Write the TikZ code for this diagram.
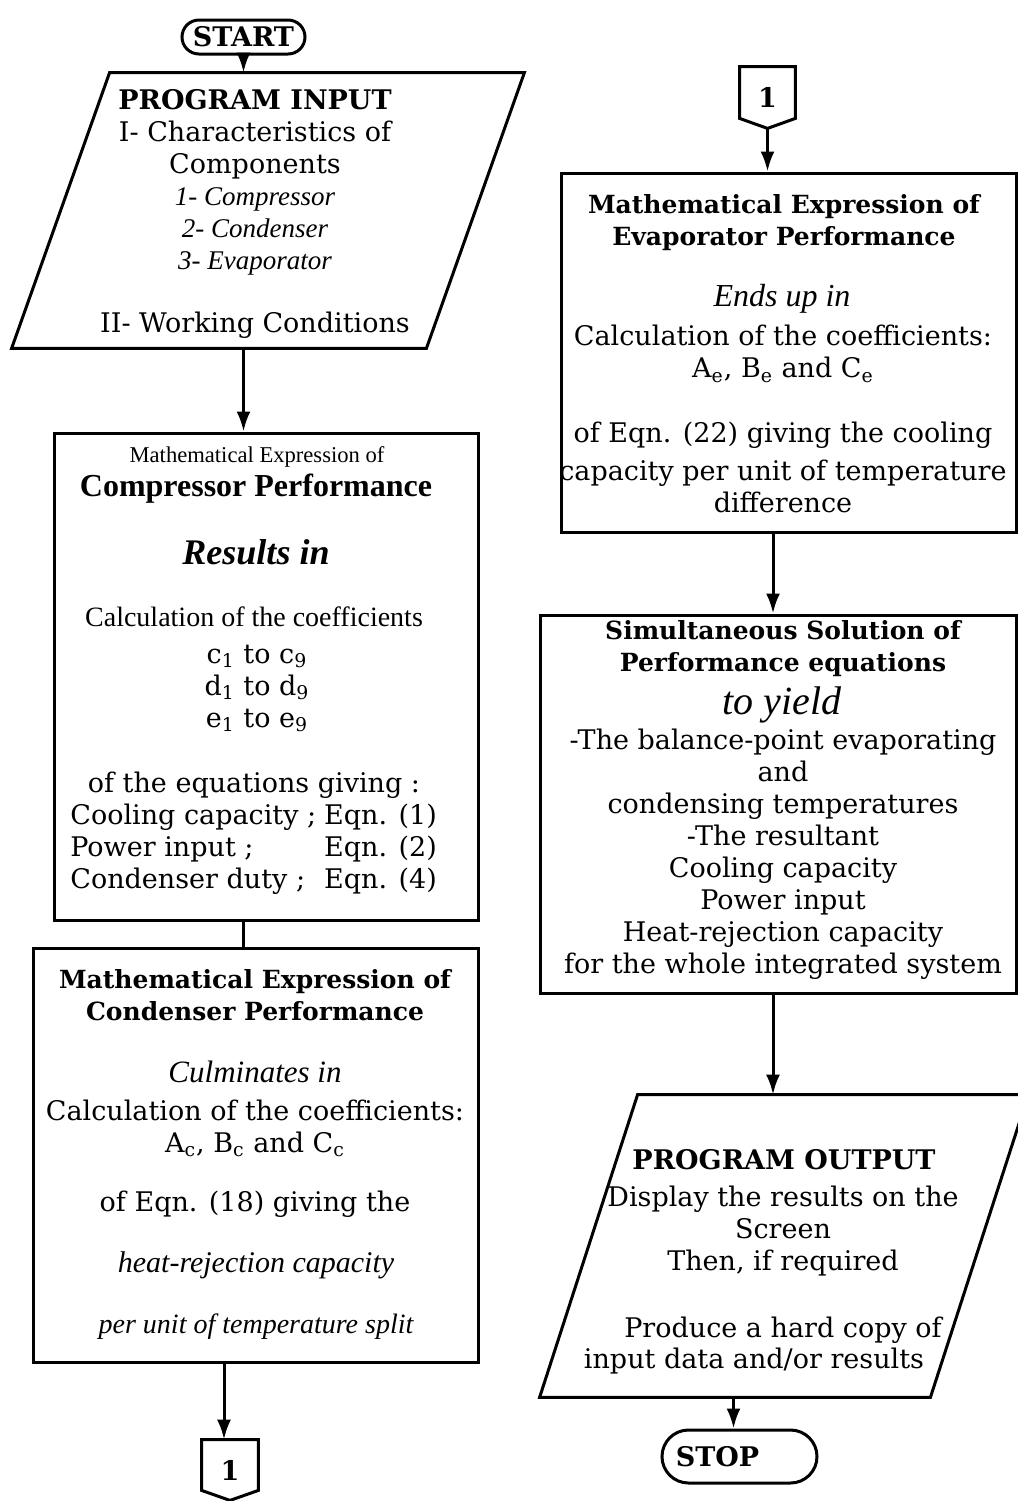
\documentclass[tikz,border=0pt]{standalone}
\usepackage{fontspec}
\setmainfont{DejaVu Serif}
\newfontfamily\tms{Liberation Serif}
\usetikzlibrary{arrows.meta,shapes.misc}

% font size with a fixed 16pt line pitch
\newcommand\fs[1]{\fontsize{#1}{16}\selectfont}

\begin{document}
\begin{tikzpicture}[x=0.5pt,y=-0.5pt,
  shape line/.style={draw, line width=1.5pt},
  procbox/.style={shape line, rectangle, inner sep=0pt},
  frame/.style={rectangle, inner sep=0pt},
  terminal/.style={shape line, rounded rectangle, inner sep=0pt, font=\fs{13.5}\bfseries},
  arr/.style={line width=1.5pt, -{Latex[length=10pt,width=7pt]}},
  link/.style={line width=1.5pt},
  txt/.style={align=center, inner sep=0pt, font=\fs{13.5}},
  itl/.style={txt, font=\tms\fs{#1}\itshape},
  hdr/.style={txt, font=\fs{12.5}\bfseries}
]
\useasboundingbox (0,0) rectangle (1018,1501);
\fill[white] (0,0) rectangle (1018,1501);

% ---------------- left column ----------------
\node[terminal, minimum width=61.5pt, minimum height=17pt] (start) at (243.5,37) {START};

% program input (parallelogram)
\node[frame, minimum width=256pt, minimum height=137.5pt] (inp) at (268,210.5) {};
\draw[shape line] ([xshift=49pt]inp.north west) -- (inp.north east)
  -- ([xshift=-49pt]inp.south east) -- (inp.south west) -- cycle;
\node[txt] (inp-t) at (255,213.5) {\textbf{PROGRAM INPUT}\\ I- Characteristics of\\ Components\\
  {\tms\itshape 1- Compressor}\\ {\tms\itshape 2- Condenser}\\ {\tms\itshape 3- Evaporator}\\[15.5pt]
  II- Working Conditions};

% compressor
\node[procbox, minimum width=212pt, minimum height=243.5pt] (comp) at (266,676.5) {};
\node[txt, font=\tms\fs{11.3}] (cm-a) at (257,457) {Mathematical Expression of};
\node[txt, font=\tms\fs{16}\bfseries] (cm-b) at (256,489) {Compressor Performance};
\node[txt, font=\tms\fs{18}\bfseries\itshape] (cm-c) at (256,552) {Results in};
\node[txt, font=\tms\fs{14}] (cm-d) at (254,617) {Calculation of the coefficients};
\node[txt] (cm-e) at (257,688.5) {c\textsubscript{1} to c\textsubscript{9}\\ d\textsubscript{1} to d\textsubscript{9}\\ e\textsubscript{1} to e\textsubscript{9}};
\node[txt] (cm-f) at (254,785) {of the equations giving :};
\node[txt, anchor=west] (cm-g) at (70,850) {\begin{tabular}{@{}l@{\hspace{4pt}}l@{}}
  Cooling capacity ; & Eqn. (1)\\ Power input ; & Eqn. (2)\\ Condenser duty ; & Eqn. (4)
  \end{tabular}};

% condenser
\node[procbox, minimum width=222.5pt, minimum height=207pt] (cond) at (255.5,1155) {};
\node[hdr] (cd-a) at (255,995) {Mathematical Expression of\\ Condenser Performance};
\node[itl=15.5] (cd-b) at (255,1072) {Culminates in};
\node[txt] (cd-c) at (255,1128.5) {Calculation of the coefficients:\\ A\textsubscript{c}, B\textsubscript{c} and C\textsubscript{c}};
\node[txt] (cd-d) at (255,1204) {of Eqn. (18) giving the};
\node[itl=15] (cd-e) at (256,1265) {heat-rejection capacity};
\node[itl=14] (cd-f) at (256,1327) {per unit of temperature split};

% off-page connector
\node[frame, minimum width=28pt, minimum height=30pt, font=\fs{13.5}\bfseries] (c1a) at (230,1470) {1};
\draw[shape line] (c1a.north west) -- (c1a.north east) -- ([yshift=5pt]c1a.south east)
  -- (c1a.south) -- ([yshift=5pt]c1a.south west) -- cycle;

% ---------------- right column ----------------
\node[frame, minimum width=27.5pt, minimum height=30.5pt, font=\fs{13.5}\bfseries] (c1b) at (767.5,97.5) {1};
\draw[shape line] (c1b.north west) -- (c1b.north east) -- ([yshift=5pt]c1b.south east)
  -- (c1b.south) -- ([yshift=5pt]c1b.south west) -- cycle;

% evaporator
\node[procbox, minimum width=227.5pt, minimum height=179.5pt] (evap) at (788.5,352.5) {};
\node[hdr] (ev-a) at (784,223) {Mathematical Expression of\\ Evaporator Performance};
\node[itl=16] (ev-b) at (782,299) {Ends up in};
\node[txt] (ev-c) at (783,354) {Calculation of the coefficients:\\ A\textsubscript{e}, B\textsubscript{e} and C\textsubscript{e}};
\node[txt] (ev-d) at (783,467) {of Eqn. (22) giving the cooling\\[3pt] capacity per unit of temperature\\ difference};

% simultaneous solution
\node[procbox, minimum width=238pt, minimum height=189pt] (simul) at (778,804) {};
\node[hdr] (si-a) at (783,649) {Simultaneous Solution of\\ Performance equations};
\node[itl=20] (si-b) at (782,705) {to yield};
\node[txt] (si-c) at (783,854.5) {-The balance-point evaporating\\ and\\ condensing temperatures\\ -The resultant\\
  Cooling capacity\\ Power input\\ Heat-rejection capacity\\ for the whole integrated system};

% program output (parallelogram)
\node[frame, minimum width=244pt, minimum height=151pt] (outp) at (784,1246) {};
\draw[shape line] ([xshift=49pt]outp.north west) -- (outp.north east)
  -- ([xshift=-49pt]outp.south east) -- (outp.south west) -- cycle;
\node[txt, font=\fs{13.5}\bfseries] (ou-a) at (784,1160) {PROGRAM OUTPUT};
\node[txt] (ou-b) at (783,1231) {Display the results on the\\ Screen\\ Then, if required};
\node[txt] (ou-c) at (783,1330) {Produce a hard copy of};
\node[txt] (ou-d) at (754,1361) {input data and/or results};

\node[terminal, minimum width=77.5pt, minimum height=26.5pt] (stop) at (739.5,1456.5) {STOP\hspace*{22pt}};

% ---------------- connectors ----------------
\coordinate (ax1) at ([xshift=-3pt]c1a.north);
\coordinate (ax2) at ([xshift=-2.5pt]simul.north);
\coordinate (ax3) at ([xshift=-2.5pt]simul.south);
\coordinate (ax4) at ([xshift=-3pt]stop.north);

\draw[arr] (start.south) -- (start.south |- inp.north);
\draw[arr] (start.south |- inp.south) -- (start.south |- comp.north);
\draw[link] (start.south |- comp.south) -- (start.south |- cond.north);
\draw[arr] (ax1 |- cond.south) -- (ax1);
\draw[arr] (c1b.south) -- (c1b.south |- evap.north);
\draw[arr] (ax2 |- evap.south) -- (ax2);
\draw[arr] (ax3) -- (ax3 |- outp.north);
\draw[arr] (ax4 |- outp.south) -- (ax4);
\end{tikzpicture}
\end{document}
